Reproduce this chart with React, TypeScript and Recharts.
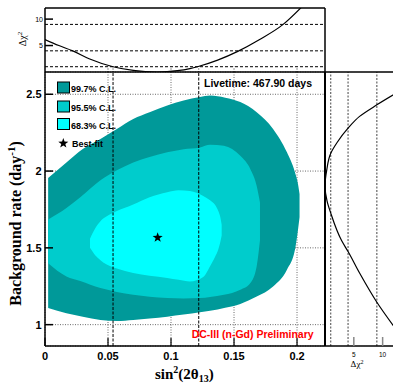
import React from 'react';
import {
  ComposedChart,
  LineChart,
  Line,
  Area,
  Scatter,
  XAxis,
  YAxis,
  CartesianGrid,
  ReferenceLine,
} from 'recharts';

const SANS = '"Liberation Sans", Arial, Helvetica, sans-serif';
const SERIF = '"Liberation Serif", "Times New Roman", serif';

// ---- axes ----
const sinTicks = [0, 0.05, 0.1, 0.15, 0.2];
const rateTicks = [1, 1.5, 2, 2.5];
const chiTicksTop = [5, 10];
const chiTicksRight = [5, 10];
const sinDomain: [number, number] = [0, 0.2222];
const rateDomain: [number, number] = [0.861, 2.645];
const chiDomainTop: [number, number] = [0, 12.1];
const chiDomainRight: [number, number] = [0, 11.8];
const chiLevels = [1, 4, 9];
const sigmaSin = [0.054, 0.122];

// ---- contours (sin^2(2theta13) vs background rate) ----
const outerX = [0.0025, 0.017, 0.03, 0.044, 0.057, 0.07, 0.083, 0.097, 0.11, 0.123, 0.131, 0.143, 0.155, 0.168, 0.181, 0.192, 0.1984, 0.2008, 0.202];
const outerLow = [1.108, 1.075, 1.052, 1.031, 1.024, 1.031, 1.04, 1.052, 1.066, 1.081, 1.09, 1.11, 1.135, 1.183, 1.249, 1.358, 1.489, 1.62, 1.7];
const outerHigh = [1.955, 2.056, 2.143, 2.209, 2.274, 2.339, 2.383, 2.427, 2.459, 2.482, 2.492, 2.478, 2.449, 2.383, 2.274, 2.122, 1.991, 1.914, 1.85];

const midX = [0.0025, 0.017, 0.028, 0.044, 0.057, 0.07, 0.083, 0.097, 0.11, 0.123, 0.131, 0.142, 0.155, 0.163, 0.168, 0.1706];
const midLow = [1.4, 1.314, 1.285, 1.238, 1.213, 1.194, 1.182, 1.173, 1.17, 1.173, 1.18, 1.194, 1.227, 1.271, 1.38, 1.55];
const midHigh = [1.685, 1.76, 1.83, 1.94, 2.005, 2.056, 2.092, 2.122, 2.142, 2.154, 2.172, 2.165, 2.099, 2.012, 1.903, 1.795];

const innerX = [0.0357, 0.04, 0.044, 0.049, 0.057, 0.07, 0.083, 0.097, 0.106, 0.115, 0.1256, 0.131, 0.1349, 0.1375, 0.1389, 0.1402];
const innerLow = [1.5, 1.45, 1.42, 1.391, 1.365, 1.336, 1.318, 1.304, 1.292, 1.281, 1.31, 1.38, 1.44, 1.489, 1.53, 1.58];
const innerHigh = [1.56, 1.63, 1.674, 1.705, 1.74, 1.783, 1.83, 1.862, 1.875, 1.87, 1.838, 1.81, 1.78, 1.74, 1.707, 1.65];

const bestFit = [{ x: 0.0894, y: 1.567 }];

// ---- top profile: delta chi2 vs sin^2 ----
const topSin = [0, 0.011, 0.022, 0.035, 0.054, 0.07, 0.089, 0.105, 0.115, 0.121, 0.137, 0.153, 0.17, 0.189, 0.205];
const topChi = [6.15, 5.0, 4.0, 2.5, 1.0, 0.3, 0, 0.25, 0.65, 1.0, 2.25, 3.9, 6.1, 9.0, 12.6];

// ---- right profile: delta chi2 vs background rate ----
const rightRate = [1.0, 1.075, 1.15, 1.227, 1.32, 1.39, 1.5, 1.6, 1.7, 1.78, 1.96, 2.03, 2.17, 2.36, 2.52];
const rightChi = [12.3, 9.0, 6.0, 4.0, 2.1, 1.0, 0.3, 0, 0.35, 1.0, 2.9, 4.0, 6.0, 9.0, 12.0];

const C997 = '#009999';
const C955 = '#00CCCC';
const C683 = '#00FFFF';

const band = (xs: number[], lo: number[], hi: number[]) =>
  xs.map((x, i) => ({ x, r: [lo[i], hi[i]] }));
const outerBand = band(outerX, outerLow, outerHigh);
const midBand = band(midX, midLow, midHigh);
const innerBand = band(innerX, innerLow, innerHigh);
const topData = topSin.map((x, i) => ({ x, chi: topChi[i] }));
const rightData = rightRate.map((rate, i) => ({ rate, chi: rightChi[i] }));

const starPoints = (cx: number, cy: number, R: number, r: number) =>
  Array.from({ length: 10 }, (_, i) => {
    const a = -Math.PI / 2 + (i * Math.PI) / 5;
    const rad = i % 2 === 0 ? R : r;
    return `${cx + rad * Math.cos(a)},${cy + rad * Math.sin(a)}`;
  }).join(' ');

const StarShape = (p: any) => <polygon points={starPoints(p.cx, p.cy, 5.3, 2.1)} fill="#000" />;

const MainYTick = (p: any) => (
  <g>
    <line x1={p.x} x2={p.x + 8} y1={p.y} y2={p.y} stroke="#000" strokeWidth={1.5} />
    <text x={p.x - 3.5} y={p.y + 4} textAnchor="end" fontSize={11} fontWeight="bold" fontFamily={SANS} fill="#000">
      {p.payload.value}
    </text>
  </g>
);

const MainXTick = (p: any) => (
  <g>
    <line x1={p.x} x2={p.x} y1={p.y} y2={p.y - 8} stroke="#000" strokeWidth={1.2} />
    <text x={p.x} y={p.y + 13.5} textAnchor="middle" fontSize={11} fontWeight="bold" fontFamily={SANS} fill="#000">
      {p.payload.value}
    </text>
  </g>
);

const TopYTick = (p: any) => (
  <g>
    <line x1={p.x} x2={p.x + 8} y1={p.y} y2={p.y} stroke="#000" strokeWidth={1.5} />
    <text x={p.x - 2} y={p.y + 2.4} textAnchor="end" fontSize={7} fontFamily={SANS} fill="#000">
      {p.payload.value}
    </text>
  </g>
);

const RightXTick = (p: any) => (
  <g>
    <line x1={p.x} x2={p.x} y1={p.y} y2={p.y - 9} stroke="#888" strokeWidth={1.5} />
    <text x={p.x} y={p.y + 11} textAnchor="middle" fontSize={6.5} fontFamily={SANS} fill="#000">
      {p.payload.value}
    </text>
  </g>
);

const layer: React.CSSProperties = { position: 'absolute', left: 0, top: 0 };

export default function App() {
  return (
    <div style={{ position: 'absolute', left: 0, top: 0, width: 393, height: 388, background: '#fff', overflow: 'hidden' }}>
      {/* main contour plot */}
      <div style={layer}>
        <ComposedChart width={393} height={388} margin={{ top: 72, right: 68, bottom: 0, left: 0 }}>
          <CartesianGrid stroke="#444" strokeDasharray="1 1.5" strokeWidth={0.8} />
          <XAxis
            type="number"
            dataKey="x"
            domain={sinDomain}
            ticks={sinTicks}
            interval={0}
            height={42}
            tickSize={0}
            tickMargin={0}
            tickLine={false}
            tick={MainXTick}
            axisLine={{ stroke: '#000', strokeWidth: 1.5 }}
            allowDataOverflow
          />
          <YAxis
            type="number"
            domain={rateDomain}
            ticks={rateTicks}
            interval={0}
            width={45}
            tickSize={0}
            tickMargin={0}
            tickLine={false}
            tick={MainYTick}
            axisLine={{ stroke: '#000', strokeWidth: 1.5 }}
            allowDataOverflow
          />
          <Area data={outerBand} dataKey="r" type="monotone" stroke="none" fill={C997} fillOpacity={1} isAnimationActive={false} />
          <Area data={midBand} dataKey="r" type="monotone" stroke="none" fill={C955} fillOpacity={1} isAnimationActive={false} />
          <Area data={innerBand} dataKey="r" type="monotone" stroke="none" fill={C683} fillOpacity={1} isAnimationActive={false} />
          {sigmaSin.map((s) => (
            <ReferenceLine key={s} x={s} stroke="#000" strokeWidth={1} strokeDasharray="3 1.5" />
          ))}
          <Scatter data={bestFit} dataKey="y" shape={StarShape} isAnimationActive={false} />
        </ComposedChart>
      </div>

      {/* top profile */}
      <div style={layer}>
        <LineChart width={393} height={80} margin={{ top: 8, right: 68, bottom: 8, left: 0 }} data={topData}>
          <XAxis type="number" dataKey="x" domain={sinDomain} hide allowDataOverflow />
          <YAxis
            type="number"
            domain={chiDomainTop}
            ticks={chiTicksTop}
            interval={0}
            width={45}
            tickSize={0}
            tickMargin={0}
            tickLine={false}
            tick={TopYTick}
            axisLine={{ stroke: '#000', strokeWidth: 1.5 }}
            allowDataOverflow
          />
          {chiLevels.map((c) => (
            <ReferenceLine key={c} y={c} stroke="#000" strokeWidth={1} strokeDasharray="3 2" />
          ))}
          {[...sinTicks.slice(1), ...sigmaSin].map((s) => (
            <ReferenceLine
              key={'seg' + s}
              segment={[{ x: s, y: 0 }, { x: s, y: 1 }]}
              stroke="#333"
              strokeWidth={1}
              strokeDasharray="1 1.5"
            />
          ))}
          <Line type="monotone" dataKey="chi" stroke="#000" strokeWidth={1.2} dot={false} isAnimationActive={false} />
        </LineChart>
      </div>

      {/* right profile */}
      <div style={layer}>
        <LineChart layout="vertical" width={393} height={388} margin={{ top: 72, right: 0, bottom: 0, left: 325 }} data={rightData}>
          <XAxis
            type="number"
            domain={chiDomainRight}
            ticks={chiTicksRight}
            interval={0}
            height={42}
            tickSize={0}
            tickMargin={0}
            tickLine={false}
            tick={RightXTick}
            axisLine={{ stroke: '#000', strokeWidth: 1.5 }}
            allowDataOverflow
          />
          <YAxis type="number" dataKey="rate" domain={rateDomain} hide allowDataOverflow />
          {chiLevels.map((c) => (
            <ReferenceLine key={c} x={c} stroke="#444" strokeWidth={1} strokeDasharray="2 1.5" />
          ))}
          <Line type="monotone" dataKey="chi" stroke="#000" strokeWidth={1.2} dot={false} isAnimationActive={false} />
        </LineChart>
      </div>

      {/* frame, legend and labels */}
      <svg width={393} height={388} style={{ ...layer, pointerEvents: 'none' }}>
        <line x1={45} y1={8} x2={325} y2={8} stroke="#000" strokeWidth={1.5} />
        <line x1={325} y1={8} x2={325} y2={72} stroke="#000" strokeWidth={1.5} />
        <line x1={45} y1={72} x2={393} y2={72} stroke="#000" strokeWidth={1.5} />
        <line x1={325} y1={72} x2={325} y2={346} stroke="#000" strokeWidth={2} />

        {/* legend */}
        <rect x={57.5} y={82} width={12} height={11} fill={C997} stroke="#000" strokeWidth={1} />
        <rect x={57.5} y={101} width={12} height={11} fill={C955} stroke="#000" strokeWidth={1} />
        <rect x={57.5} y={118.5} width={12} height={11} fill={C683} stroke="#000" strokeWidth={1} />
        <polygon points={starPoints(63.3, 143.3, 5.3, 2.1)} fill="#000" />
        <g fontFamily={SANS} fontWeight="bold" fontSize={9} fill="#000">
          <text x={71} y={92.3}>99.7% C.L.</text>
          <text x={71} y={111}>95.5% C.L.</text>
          <text x={71} y={128.5}>68.3% C.L.</text>
          <text x={72} y={147}>Best-fit</text>
        </g>

        <text x={204} y={86.5} fontFamily={SANS} fontWeight="bold" fontSize={10.5} fill="#000">
          Livetime: 467.90 days
        </text>
        <text x={191.7} y={337.5} fontFamily={SANS} fontWeight="bold" fontSize={10.5} fill="#ff0000">
          DC-III (n-Gd) Preliminary
        </text>

        {/* axis titles */}
        <text
          x={20.5}
          y={223.5}
          transform="rotate(-90 20.5 223.5)"
          textAnchor="middle"
          fontFamily={SERIF}
          fontWeight="bold"
          fontSize={16}
          fill="#000"
        >
          Background rate (day<tspan dy={-6} fontSize={11}>-1</tspan>
          <tspan dy={6}>)</tspan>
        </text>
        <text x={155} y={379} fontFamily={SERIF} fontWeight="bold" fontSize={15} fill="#000">
          sin<tspan dy={-6} fontSize={10}>2</tspan>
          <tspan dy={6}>(2θ</tspan>
          <tspan dy={3} fontSize={10}>13</tspan>
          <tspan dy={-3}>)</tspan>
        </text>
        <text
          x={25.5}
          y={39}
          transform="rotate(-90 25.5 39)"
          textAnchor="middle"
          fontFamily={SERIF}
          fontSize={10}
          fill="#000"
        >
          Δχ<tspan dy={-4} fontSize={7}>2</tspan>
        </text>
        <text x={357} y={367} textAnchor="middle" fontFamily={SERIF} fontSize={9} fill="#000">
          Δχ<tspan dy={-3.5} fontSize={6}>2</tspan>
        </text>
      </svg>
    </div>
  );
}
